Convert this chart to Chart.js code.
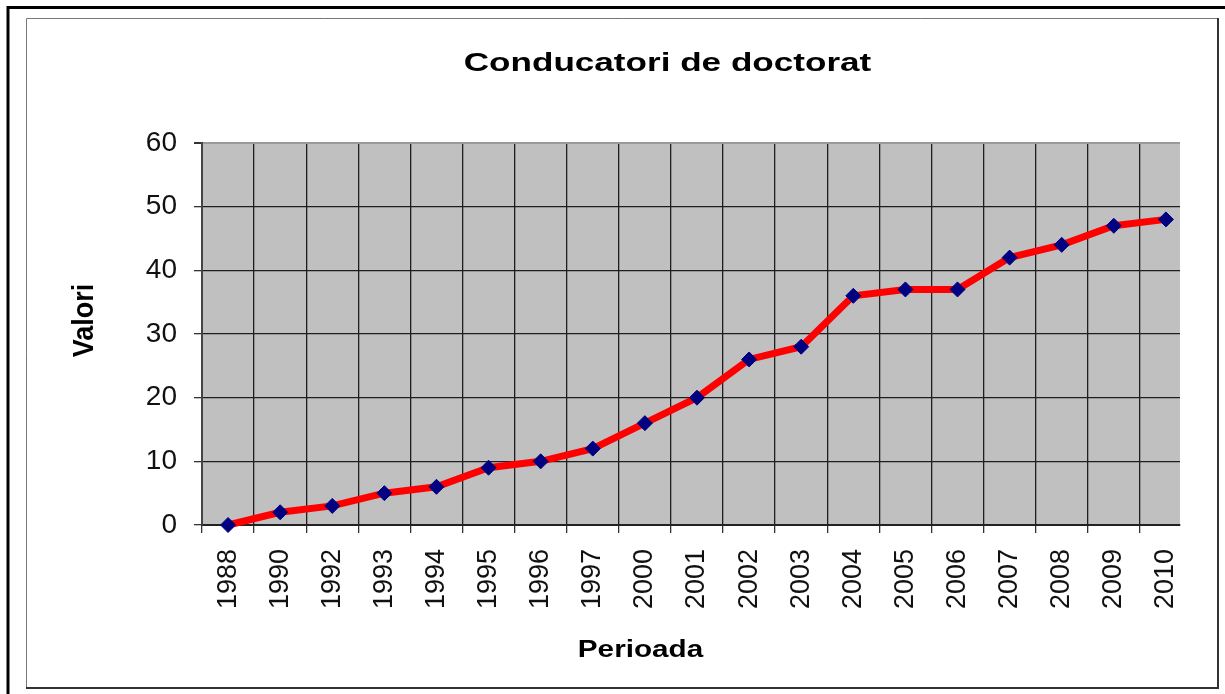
<!DOCTYPE html>
<html>
<head>
<meta charset="utf-8">
<script src="https://cdn.jsdelivr.net/npm/chart.js@4/dist/chart.umd.min.js"></script>
<style>
  html, body { margin: 0; padding: 0; background: #fff; }
  #c { display: block; }
</style>
</head>
<body>
<canvas id="c" width="1225" height="694"></canvas>
<script>
// ---- data ----
const categories = ['1988','1990','1992','1993','1994','1995','1996','1997','2000','2001','2002','2003','2004','2005','2006','2007','2008','2009','2010'];
const values = [0, 2, 3, 5, 6, 9, 10, 12, 16, 20, 26, 28, 36, 37, 37, 42, 44, 47, 48];
const yMin = 0;
const yMax = 60;
const yStep = 10;
const chartTitle = 'Conducatori de doctorat';
const xTitle = 'Perioada';
const yTitle = 'Valori';

// the reference plot is cut short on the right: last band is partly hidden
const X_END_TRIM = 0.23;

class TrimmedCategory extends Chart.CategoryScale {
  buildTicks() {
    const t = super.buildTicks();
    this._valueRange -= X_END_TRIM;
    return t;
  }
}
TrimmedCategory.id = 'trimmedCategory';
TrimmedCategory.defaults = Chart.CategoryScale.defaults;
Chart.register(TrimmedCategory);

const decor = {
  id: 'decor',
  beforeDraw(chart) {
    const {ctx, chartArea: a, width, height} = chart;
    ctx.save();
    ctx.fillStyle = '#ffffff';
    ctx.fillRect(0, 0, width, height);
    // outer thick frame (top + left visible)
    ctx.strokeStyle = '#000';
    ctx.lineWidth = 3;
    ctx.beginPath();
    ctx.moveTo(8, height + 5);
    ctx.lineTo(8, 7.5);
    ctx.lineTo(width + 5, 7.5);
    ctx.stroke();
    // inner thin frame
    ctx.strokeStyle = '#777';
    ctx.lineWidth = 1;
    ctx.beginPath();
    ctx.moveTo(26.5, 688);
    ctx.lineTo(26.5, 18.5);
    ctx.lineTo(1218, 18.5);
    ctx.stroke();
    ctx.strokeStyle = '#333';
    ctx.lineWidth = 2;
    ctx.beginPath();
    ctx.moveTo(1218, 18);
    ctx.lineTo(1218, 688);
    ctx.lineTo(26, 688);
    ctx.stroke();
    // plot background
    ctx.fillStyle = '#c0c0c0';
    ctx.fillRect(a.left, a.top, a.right - a.left, a.bottom - a.top);
    ctx.restore();
  },
  afterDraw(chart) {
    const {ctx, chartArea: a} = chart;
    ctx.save();
    ctx.fillStyle = '#000';
    ctx.textAlign = 'center';
    ctx.textBaseline = 'alphabetic';
    // chart title
    ctx.save();
    ctx.translate(667.5, 70.5);
    ctx.scale(1.35, 1);
    ctx.font = 'bold 26px "Liberation Sans", Arial, sans-serif';
    ctx.fillText(chartTitle, 0, 0);
    ctx.restore();
    // x title
    ctx.save();
    ctx.translate(640.5, a.bottom + 132);
    ctx.scale(1.29, 1);
    ctx.font = 'bold 23px "Liberation Sans", Arial, sans-serif';
    ctx.fillText(xTitle, 0, 0);
    ctx.restore();
    // y title
    ctx.save();
    ctx.translate(a.left - 109, (a.top + a.bottom) / 2 - 13.5);
    ctx.rotate(-Math.PI / 2);
    ctx.scale(1, 1.07);
    ctx.font = 'bold 27px "Liberation Sans", Arial, sans-serif';
    ctx.fillText(yTitle, 0, 0);
    ctx.restore();
    ctx.restore();
  }
};

new Chart(document.getElementById('c'), {
  type: 'line',
  data: {
    labels: categories,
    datasets: [{
      data: values,
      borderColor: '#ff0000',
      borderWidth: 7,
      tension: 0,
      fill: false,
      clip: false,
      pointStyle: 'rectRot',
      pointRadius: 7.5,
      pointBackgroundColor: '#000080',
      pointBorderColor: '#000080',
      pointBorderWidth: 1
    }]
  },
  options: {
    responsive: false,
    animation: false,
    devicePixelRatio: 1,
    layout: { padding: { left: 30, right: 45, top: 143, bottom: 10 } },
    plugins: {
      legend: { display: false },
      title: { display: false },
      tooltip: { enabled: false }
    },
    scales: {
      x: {
        type: 'trimmedCategory',
        offset: true,
        grid: {
          offset: true,
          color: (ctx) => (ctx.index === undefined ? 'rgba(0,0,0,0)' : '#1e1e1e'),
          tickColor: '#333',
          lineWidth: 1.3,
          tickLength: 8,
          drawTicks: true
        },
        border: { display: true, color: '#222', width: 2 },
        ticks: {
          autoSkip: false,
          maxRotation: 90,
          minRotation: 90,
          padding: 16,
          color: '#111',
          font: { family: '"Liberation Sans", Arial, sans-serif', size: 27 }
        },
        afterFit(scale) { scale.height = 694 - 525 - 10; }
      },
      y: {
        min: yMin,
        max: yMax,
        grid: {
          color: (ctx) => (ctx.tick && ctx.tick.value === yMax ? '#9a9a9a' : '#1e1e1e'),
          lineWidth: (ctx) => (ctx.tick && ctx.tick.value === yMax ? 2 : 1.3),
          tickColor: '#333',
          tickLength: 8,
          drawTicks: true
        },
        border: { display: true, color: '#444', width: 2 },
        ticks: {
          stepSize: yStep,
          padding: 17,
          color: '#111',
          font: { family: '"Liberation Sans", Arial, sans-serif', size: 28 }
        },
        afterFit(scale) { scale.width = 202 - 30; }
      }
    }
  },
  plugins: [decor]
});
</script>
</body>
</html>
